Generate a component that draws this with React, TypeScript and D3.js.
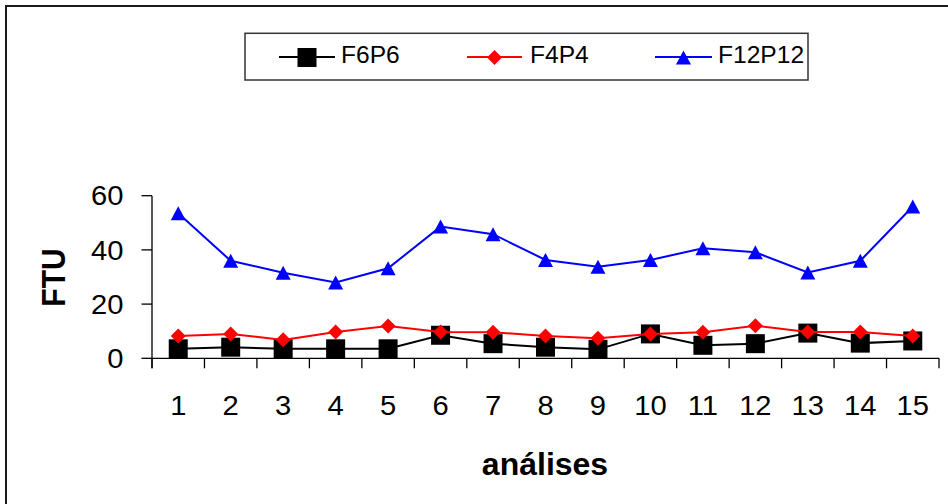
import React from "react";
import * as d3 from "d3";

const categories = ["1","2","3","4","5","6","7","8","9","10","11","12","13","14","15"];
const f6p6 = [3.5, 4.1, 3.5, 3.5, 3.5, 8.5, 5.4, 4.1, 3.3, 9, 4.8, 5.4, 9.3, 5.6, 6.4];
const f4p4 = [8.2, 9, 6.8, 9.7, 11.9, 9.7, 9.6, 8.2, 7.4, 9, 9.6, 12, 9.7, 9.7, 8.2];
const f12p12 = [53.5, 36, 31.6, 28, 33.2, 48.6, 45.8, 36.3, 33.8, 36.3, 40.6, 39.1, 31.7, 36, 56];
const yTicks = [0, 20, 40, 60];
const seriesNames = ["F6P6", "F4P4", "F12P12"];

const W = 948, H = 504;
const PL = 152, PR = 939, PT = 195.7, PB = 358.3;
const FONT = "Liberation Sans, Arial, sans-serif";

function marker(kind: string, cx: number, cy: number, color: string, key?: any) {
  if (kind === "square") {
    const s = 19;
    return <rect key={key} x={cx - s / 2} y={cy - s / 2} width={s} height={s} fill={color} />;
  }
  if (kind === "diamond") {
    const w = 7.5, h = 7.5;
    return <path key={key} d={`M${cx},${cy - h}L${cx + w},${cy}L${cx},${cy + h}L${cx - w},${cy}Z`} fill={color} />;
  }
  const w = 7.5, h = 7;
  return <path key={key} d={`M${cx},${cy - h}L${cx + w},${cy + h}L${cx - w},${cy + h}Z`} fill={color} />;
}

export default function App() {
  const x = d3.scaleBand<string>().domain(categories).range([PL, PR]).padding(0);
  const y = d3.scaleLinear().domain([0, 60]).range([PB, PT]);
  const cx = (c: string) => (x(c) as number) + x.bandwidth() / 2;
  const line = d3.line<number>().x((_, i) => cx(categories[i])).y((v) => y(v));

  const series = [
    { name: seriesNames[0], data: f6p6, color: "#000000", kind: "square" },
    { name: seriesNames[1], data: f4p4, color: "#FF0000", kind: "diamond" },
    { name: seriesNames[2], data: f12p12, color: "#0000FF", kind: "triangle" },
  ];
  const legendPos = [
    { x1: 279, x2: 335, tx: 341 },
    { x1: 467, x2: 522, tx: 530 },
    { x1: 655, x2: 712, tx: 718 },
  ];
  const boundaries = categories.map((c) => x(c) as number).concat([PR]);

  return (
    <div style={{ position: "fixed", left: 0, top: 0, width: W, height: H, background: "#fff" }}>
      <svg width={W} height={H} style={{ display: "block" }}>
        <rect x={0} y={0} width={W} height={H} fill="#fff" />
        <rect x={6} y={6} width={980} height={540} fill="none" stroke="#1a1a1a" strokeWidth={2} />

        {/* legend */}
        <rect x={245} y={33.3} width={563} height={46.7} fill="#fff" stroke="#333" strokeWidth={1.5} />
        {series.map((s, i) => {
          const p = legendPos[i];
          return (
            <g key={s.name}>
              <line x1={p.x1} x2={p.x2} y1={57} y2={57} stroke={s.color} strokeWidth={2} />
              {marker(s.kind, (p.x1 + p.x2) / 2, 57.5, s.color)}
              <text transform={`translate(${p.tx},62.5) scale(1.07,1)`} fontFamily={FONT} fontSize={23} fill="#000">
                {s.name}
              </text>
            </g>
          );
        })}

        {/* axes */}
        <line x1={PL} x2={PL} y1={PT} y2={PB + 10} stroke="#000" strokeWidth={1.3} />
        <line x1={PL} x2={PR} y1={PB} y2={PB} stroke="#000" strokeWidth={1.3} />
        {yTicks.map((t) => (
          <g key={t}>
            <line x1={PL - 10.5} x2={PL} y1={y(t)} y2={y(t)} stroke="#000" strokeWidth={1.3} />
            <text transform={`translate(123.5,${y(t) + 9.7}) scale(1.08,1)`} textAnchor="end" fontFamily={FONT} fontSize={27} fill="#000">
              {t}
            </text>
          </g>
        ))}
        {boundaries.map((b, i) => (
          <line key={i} x1={b} x2={b} y1={PB} y2={PB + 10} stroke="#000" strokeWidth={1.3} />
        ))}
        {categories.map((c) => (
          <text key={c} transform={`translate(${cx(c)},415) scale(1.08,1)`} textAnchor="middle" fontFamily={FONT} fontSize={27} fill="#000">
            {c}
          </text>
        ))}

        {/* axis titles */}
        <text x={545} y={475} textAnchor="middle" fontFamily={FONT} fontSize={32} fontWeight="bold" fill="#000">
          análises
        </text>
        <text transform={`translate(65,277.5) scale(1.12,1) rotate(-90)`} textAnchor="middle" fontFamily={FONT} fontSize={30} fontWeight="bold" fill="#000">
          FTU
        </text>

        {/* series */}
        {series.map((s) => (
          <g key={s.name}>
            <path d={line(s.data) || ""} fill="none" stroke={s.color} strokeWidth={2} />
            {s.data.map((v, i) => marker(s.kind, cx(categories[i]), y(v), s.color, i))}
          </g>
        ))}
      </svg>
    </div>
  );
}
